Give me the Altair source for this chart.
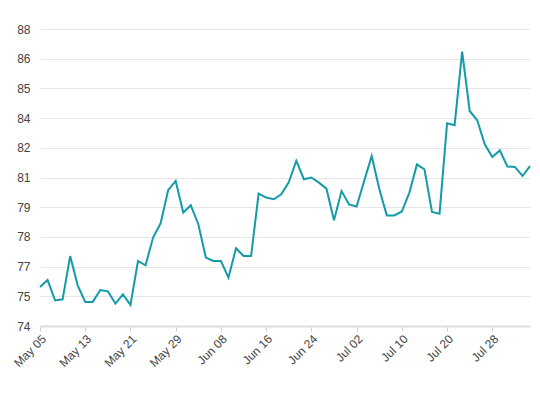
import altair as alt
import pandas as pd

values = [75.71, 76.04, 75.09, 75.14, 77.15, 75.79, 75.02, 75.02, 75.57, 75.51,
          74.94, 75.37, 74.88, 76.92, 76.72, 78.01, 78.67, 80.21, 80.64, 79.17,
          79.51, 78.63, 77.08, 76.92, 76.92, 76.15, 77.51, 77.15, 77.15, 80.05,
          79.87, 79.79, 80.02, 80.58, 81.58, 80.72, 80.80, 80.56, 80.28, 78.81,
          80.17, 79.55, 79.45, 80.64, 81.80, 80.28, 79.04, 79.04, 79.22, 80.10,
          81.41, 81.18, 79.20, 79.12, 83.32, 83.23, 86.65, 83.89, 83.46, 82.34,
          81.75, 82.06, 81.31, 81.29, 80.87, 81.33]

tick_labels = ["May 05", "May 13", "May 21", "May 29", "Jun 08", "Jun 16",
               "Jun 24", "Jul 02", "Jul 10", "Jul 20", "Jul 28"]
tick_every = 6

y_min = 73.9
y_max = 87.7
y_ticks = [round(y_min + i * (y_max - y_min) / 10, 3) for i in range(11)]

df = pd.DataFrame({"i": list(range(len(values))), "v": values})

label_expr = "[" + ",".join("'" + t + "'" for t in tick_labels) + "][round(datum.value / %d)]" % tick_every

chart = alt.Chart(df).mark_line(color="#139ca5", strokeWidth=2).encode(
    x=alt.X("i:Q",
            scale=alt.Scale(domain=[0, len(values) - 1], nice=False, zero=False),
            axis=alt.Axis(title=None, values=list(range(0, len(tick_labels) * tick_every, tick_every)),
                          labelExpr=label_expr, labelAngle=-45, grid=False,
                          domainColor="#dddddd", domainWidth=2, tickColor="#cccccc", tickSize=5,
                          labelColor="#444444", labelFontSize=12, labelFont="Liberation Sans",
                          labelPadding=2)),
    y=alt.Y("v:Q",
            scale=alt.Scale(domain=[y_min, y_max], nice=False, zero=False),
            axis=alt.Axis(title=None, values=y_ticks, format=".0f", domain=False, ticks=False,
                          gridColor="#e6e6e6", labelColor="#444444", labelFontSize=12,
                          labelFont="Liberation Sans", labelPadding=10)),
).properties(
    width=490, height=297,
    autosize=alt.AutoSizeParams(type="none"),
    padding={"left": 32, "top": 21, "right": 2, "bottom": 66},
).configure_view(stroke=None)

chart.save("out.html", embed_options={"renderer": "svg", "actions": False})
